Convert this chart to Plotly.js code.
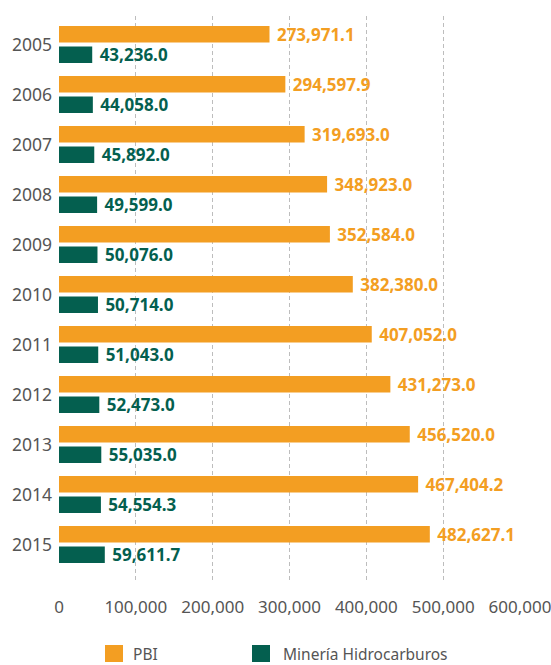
<!DOCTYPE html>
<html>
<head>
<meta charset="utf-8">
<script src="https://cdn.plot.ly/plotly-3.0.1.min.js"></script>
<style>html,body{margin:0;padding:0;background:#fff;}#chart{width:551px;height:665px;}</style>
</head>
<body>
<div id="chart"></div>
<script>
const years = ['2005','2006','2007','2008','2009','2010','2011','2012','2013','2014','2015'];
const pbi = [273971.1, 294597.9, 319693.0, 348923.0, 352584.0, 382380.0, 407052.0, 431273.0, 456520.0, 467404.2, 482627.1];
const mineria = [43236.0, 44058.0, 45892.0, 49599.0, 50076.0, 50714.0, 51043.0, 52473.0, 55035.0, 54554.3, 59611.7];
const seriesNames = ['PBI', 'Minería Hidrocarburos'];
const seriesColors = ['#F39E22', '#045F4F'];
const xTicks = [0, 100000, 200000, 300000, 400000, 500000, 600000];
const xTickText = ['0', '100,000', '200,000', '300,000', '400,000', '500,000', '600,000'];

const FONT = 'Noto Sans, Open Sans, sans-serif';

function barTrace(vals, i) {
  return {
    type: 'bar', orientation: 'h',
    y: years, x: vals, name: seriesNames[i],
    marker: {color: seriesColors[i]},
    texttemplate: ' %{x:,.1f}',
    textposition: 'outside',
    constraintext: 'none',
    cliponaxis: false,
    textfont: {family: FONT, size: 17, color: seriesColors[i], weight: 'bold'},
    hoverinfo: 'x+y'
  };
}

const data = [barTrace(pbi, 0), barTrace(mineria, 1)];

// custom legend (pixel positions converted to paper coords)
const plotL = 59, plotW = 461, plotT = 16, plotH = 565;
const px = p => (p - plotL) / plotW;
const py = p => (plotT + plotH - p) / plotH;
const legendItems = [{x0: 105, tx: 132}, {x0: 252, tx: 282}];
const shapes = [], annotations = [];
legendItems.forEach((it, i) => {
  shapes.push({type: 'rect', xref: 'paper', yref: 'paper',
    x0: px(it.x0), x1: px(it.x0 + 18), y0: py(645), y1: py(662),
    fillcolor: seriesColors[i], line: {width: 0}});
  annotations.push({xref: 'paper', yref: 'paper', x: px(it.tx), y: py(653.5),
    xanchor: 'left', yanchor: 'middle', showarrow: false, text: seriesNames[i],
    borderpad: 0,
    font: {family: FONT, size: 15.5, color: '#555'}});
});

const layout = {
  width: 551, height: 665,
  margin: {l: plotL, r: 551 - plotL - plotW, t: plotT, b: 665 - plotT - plotH},
  paper_bgcolor: '#fff', plot_bgcolor: '#fff',
  barmode: 'group', bargap: 0.18, bargroupgap: 0.195,
  showlegend: false,
  font: {family: FONT, color: '#555'},
  xaxis: {
    range: [0, 600000], tickvals: xTicks, ticktext: xTickText,
    showgrid: true, gridcolor: '#bdbdbd', gridwidth: 1, griddash: '4px,3px',
    zeroline: false, showline: false, ticks: '',
    ticklabelstandoff: 14, ticklabeloverflow: 'allow',
    tickfont: {family: FONT, size: 17, color: '#555'}
  },
  yaxis: {
    type: 'category', range: [10.73, -0.57],
    showgrid: false, zeroline: false, showline: false, ticks: '',
    ticklabelstandoff: 6,
    tickfont: {family: FONT, size: 17.5, color: '#555'}
  },
  shapes: shapes, annotations: annotations
};

Plotly.newPlot('chart', data, layout, {displayModeBar: false, staticPlot: true});
</script>
</body>
</html>
